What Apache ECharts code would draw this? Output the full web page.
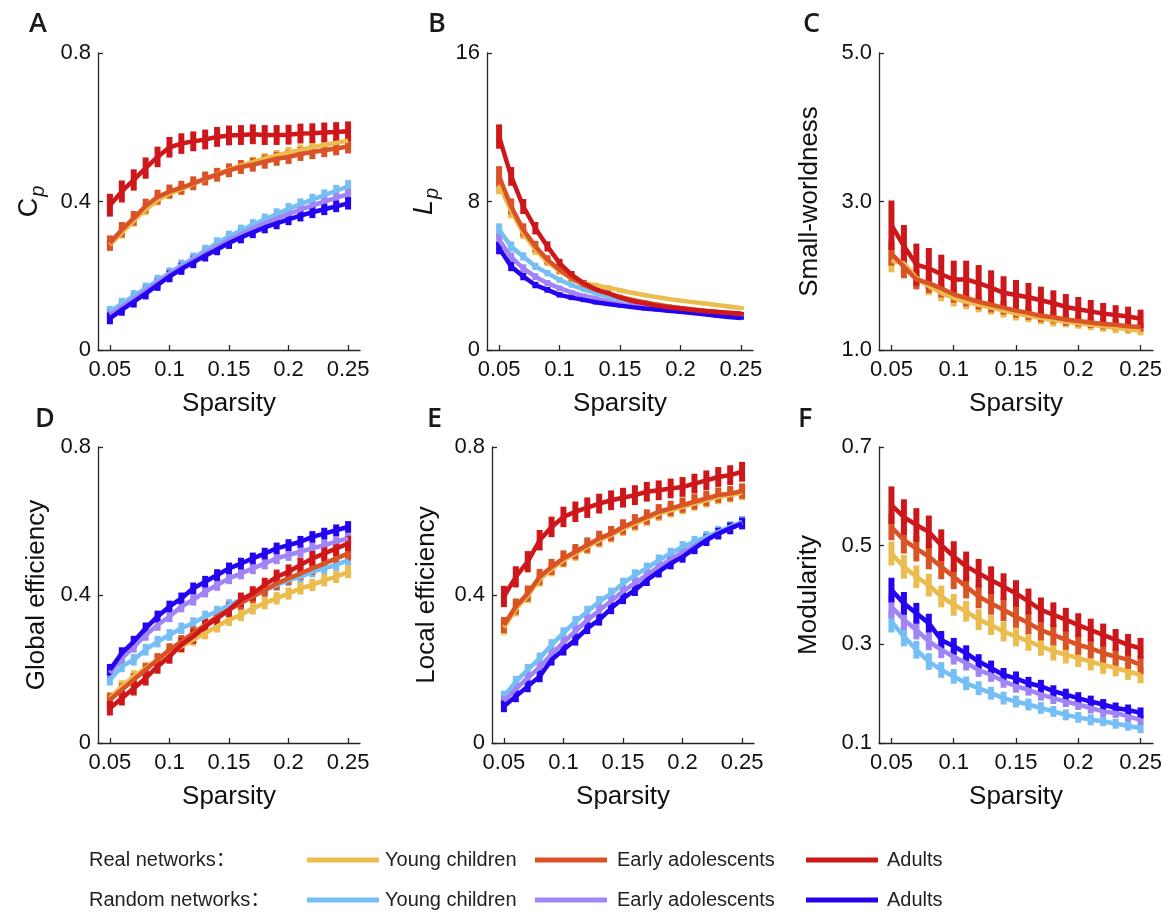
<!DOCTYPE html>
<html>
<head>
<meta charset="utf-8">
<script src="https://cdn.jsdelivr.net/npm/echarts@6/dist/echarts.min.js"></script>
<style>
  html, body { margin: 0; padding: 0; background: #fff; }
  #chart { width: 1169px; height: 913px; }
</style>
</head>
<body>
<div id="chart"></div>
<script>
/* ---------- data ---------- */
const sparsity = [0.05, 0.06, 0.07, 0.08, 0.09, 0.10, 0.11, 0.12, 0.13, 0.14, 0.15, 0.16, 0.17, 0.18, 0.19, 0.20, 0.21, 0.22, 0.23, 0.24, 0.25];
const xTicks = [0.05, 0.1, 0.15, 0.2, 0.25];

// A: Cp
const cpYoung = [0.283, 0.316, 0.348, 0.378, 0.404, 0.421, 0.433, 0.447, 0.461, 0.473, 0.486, 0.497, 0.506, 0.516, 0.524, 0.532, 0.539, 0.546, 0.552, 0.558, 0.564];
const cpYoungSd = [0.013, 0.013, 0.013, 0.012, 0.012, 0.012, 0.012, 0.012, 0.012, 0.012, 0.012, 0.012, 0.012, 0.012, 0.012, 0.012, 0.012, 0.012, 0.012, 0.012, 0.012];
const cpEarly = [0.288, 0.324, 0.355, 0.388, 0.412, 0.427, 0.437, 0.449, 0.462, 0.472, 0.484, 0.493, 0.499, 0.507, 0.515, 0.520, 0.528, 0.533, 0.538, 0.543, 0.548];
const cpEarlySd = [0.018, 0.018, 0.017, 0.017, 0.017, 0.016, 0.016, 0.016, 0.016, 0.016, 0.016, 0.016, 0.016, 0.016, 0.016, 0.016, 0.016, 0.016, 0.016, 0.016, 0.016];
const cpAdult = [0.390, 0.427, 0.458, 0.490, 0.520, 0.546, 0.556, 0.562, 0.567, 0.574, 0.578, 0.579, 0.581, 0.579, 0.579, 0.580, 0.583, 0.584, 0.586, 0.587, 0.589];
const cpAdultSd = [0.028, 0.027, 0.026, 0.026, 0.025, 0.025, 0.025, 0.024, 0.024, 0.024, 0.024, 0.024, 0.024, 0.024, 0.024, 0.024, 0.024, 0.024, 0.024, 0.024, 0.024];
const cpRandYoung = [0.103, 0.125, 0.146, 0.166, 0.187, 0.207, 0.228, 0.247, 0.268, 0.288, 0.306, 0.322, 0.337, 0.352, 0.366, 0.380, 0.393, 0.405, 0.417, 0.429, 0.441];
const cpRandYoungSd = [0.013, 0.013, 0.013, 0.013, 0.013, 0.013, 0.013, 0.013, 0.013, 0.013, 0.013, 0.013, 0.013, 0.013, 0.013, 0.013, 0.013, 0.013, 0.013, 0.013, 0.014];
const cpRandEarly = [0.094, 0.116, 0.138, 0.159, 0.181, 0.203, 0.223, 0.242, 0.261, 0.279, 0.296, 0.312, 0.327, 0.341, 0.354, 0.366, 0.378, 0.389, 0.400, 0.410, 0.420];
const cpRandEarlySd = [0.012, 0.012, 0.012, 0.012, 0.012, 0.012, 0.012, 0.012, 0.012, 0.012, 0.012, 0.012, 0.012, 0.012, 0.012, 0.012, 0.012, 0.012, 0.012, 0.012, 0.013];
const cpRandAdult = [0.085, 0.108, 0.130, 0.152, 0.175, 0.198, 0.218, 0.236, 0.254, 0.271, 0.288, 0.303, 0.317, 0.330, 0.341, 0.352, 0.362, 0.371, 0.379, 0.387, 0.395];
const cpRandAdultSd = [0.013, 0.013, 0.013, 0.013, 0.013, 0.013, 0.013, 0.013, 0.013, 0.013, 0.013, 0.013, 0.013, 0.013, 0.013, 0.013, 0.013, 0.013, 0.013, 0.013, 0.014];

// B: Lp
const lpYoung = [8.90, 7.50, 6.30, 5.40, 4.75, 4.25, 3.85, 3.62, 3.48, 3.36, 3.22, 3.08, 2.96, 2.85, 2.75, 2.66, 2.58, 2.50, 2.42, 2.34, 2.26];
const lpYoungSd = [0.45, 0.35, 0.27, 0.22, 0.17, 0.14, 0.12, 0.10, 0.09, 0.08, 0.07, 0.06, 0.06, 0.05, 0.05, 0.05, 0.05, 0.05, 0.04, 0.04, 0.04];
const lpEarly = [9.35, 7.73, 6.47, 5.58, 4.86, 4.32, 3.87, 3.50, 3.24, 3.05, 2.86, 2.70, 2.57, 2.45, 2.35, 2.26, 2.19, 2.12, 2.06, 2.01, 1.96];
const lpEarlySd = [0.50, 0.38, 0.30, 0.24, 0.19, 0.15, 0.12, 0.10, 0.09, 0.08, 0.07, 0.06, 0.06, 0.05, 0.05, 0.05, 0.05, 0.05, 0.05, 0.04, 0.04];
const lpAdult = [11.50, 9.35, 7.73, 6.56, 5.58, 4.68, 4.05, 3.60, 3.27, 3.06, 2.82, 2.64, 2.52, 2.39, 2.30, 2.23, 2.16, 2.10, 2.05, 2.00, 1.95];
const lpAdultSd = [0.60, 0.45, 0.35, 0.28, 0.22, 0.18, 0.15, 0.12, 0.10, 0.09, 0.08, 0.07, 0.06, 0.06, 0.05, 0.05, 0.05, 0.05, 0.05, 0.05, 0.05];
const lpRandYoung = [6.47, 5.58, 5.04, 4.50, 4.14, 3.78, 3.50, 3.27, 3.06, 2.88, 2.73, 2.62, 2.52, 2.43, 2.35, 2.25, 2.17, 2.09, 2.02, 1.95, 1.89];
const lpRandYoungSd = [0.30, 0.22, 0.17, 0.14, 0.12, 0.10, 0.09, 0.08, 0.07, 0.06, 0.06, 0.05, 0.05, 0.05, 0.04, 0.04, 0.04, 0.04, 0.04, 0.04, 0.04];
const lpRandEarly = [5.94, 5.00, 4.40, 3.95, 3.60, 3.33, 3.10, 2.92, 2.78, 2.62, 2.48, 2.38, 2.29, 2.21, 2.14, 2.07, 2.01, 1.95, 1.90, 1.85, 1.80];
const lpRandEarlySd = [0.28, 0.20, 0.16, 0.13, 0.11, 0.09, 0.08, 0.07, 0.06, 0.06, 0.05, 0.05, 0.05, 0.04, 0.04, 0.04, 0.04, 0.04, 0.04, 0.04, 0.04];
const lpRandAdult = [5.49, 4.50, 3.96, 3.50, 3.24, 2.97, 2.82, 2.70, 2.57, 2.48, 2.39, 2.31, 2.24, 2.18, 2.12, 2.06, 1.99, 1.92, 1.85, 1.78, 1.72];
const lpRandAdultSd = [0.28, 0.20, 0.15, 0.12, 0.10, 0.09, 0.08, 0.07, 0.06, 0.06, 0.05, 0.05, 0.05, 0.04, 0.04, 0.04, 0.04, 0.04, 0.04, 0.04, 0.04];

// C: small-worldness
const swYoung = [2.20, 2.17, 1.97, 1.86, 1.77, 1.70, 1.65, 1.61, 1.57, 1.53, 1.49, 1.46, 1.43, 1.40, 1.38, 1.36, 1.34, 1.32, 1.30, 1.28, 1.26];
const swYoungSd = [0.14, 0.13, 0.12, 0.11, 0.10, 0.10, 0.09, 0.09, 0.08, 0.08, 0.08, 0.07, 0.07, 0.07, 0.06, 0.06, 0.06, 0.06, 0.06, 0.05, 0.05];
const swEarly = [2.30, 2.12, 1.95, 1.90, 1.83, 1.75, 1.70, 1.65, 1.61, 1.57, 1.53, 1.50, 1.46, 1.44, 1.41, 1.39, 1.37, 1.35, 1.34, 1.32, 1.31];
const swEarlySd = [0.15, 0.14, 0.12, 0.12, 0.11, 0.10, 0.10, 0.09, 0.09, 0.08, 0.08, 0.08, 0.07, 0.07, 0.07, 0.06, 0.06, 0.06, 0.06, 0.06, 0.05];
const swAdult = [2.68, 2.40, 2.15, 2.10, 2.02, 1.95, 1.95, 1.90, 1.84, 1.77, 1.74, 1.71, 1.67, 1.63, 1.58, 1.55, 1.52, 1.49, 1.47, 1.45, 1.42];
const swAdultSd = [0.32, 0.27, 0.27, 0.26, 0.25, 0.24, 0.24, 0.23, 0.22, 0.21, 0.19, 0.18, 0.17, 0.16, 0.16, 0.15, 0.14, 0.13, 0.12, 0.12, 0.11];

// D: global efficiency
const geYoung = [0.121, 0.153, 0.180, 0.202, 0.225, 0.243, 0.261, 0.279, 0.297, 0.315, 0.333, 0.346, 0.364, 0.378, 0.391, 0.404, 0.418, 0.427, 0.440, 0.449, 0.463];
const geYoungSd = [0.014, 0.014, 0.014, 0.014, 0.014, 0.014, 0.014, 0.014, 0.014, 0.014, 0.014, 0.014, 0.014, 0.014, 0.014, 0.014, 0.014, 0.014, 0.014, 0.014, 0.015];
const geEarly = [0.117, 0.144, 0.171, 0.198, 0.225, 0.252, 0.274, 0.297, 0.319, 0.342, 0.360, 0.378, 0.396, 0.413, 0.431, 0.445, 0.458, 0.472, 0.485, 0.499, 0.512];
const geEarlySd = [0.015, 0.015, 0.015, 0.015, 0.015, 0.015, 0.015, 0.015, 0.015, 0.015, 0.015, 0.015, 0.015, 0.015, 0.015, 0.015, 0.015, 0.015, 0.015, 0.015, 0.016];
const geAdult = [0.094, 0.121, 0.148, 0.175, 0.207, 0.234, 0.265, 0.288, 0.315, 0.337, 0.360, 0.387, 0.404, 0.427, 0.449, 0.463, 0.481, 0.499, 0.512, 0.526, 0.539];
const geAdultSd = [0.017, 0.017, 0.017, 0.017, 0.017, 0.017, 0.017, 0.017, 0.017, 0.017, 0.017, 0.017, 0.017, 0.017, 0.017, 0.017, 0.017, 0.017, 0.017, 0.018, 0.018];
const geRandYoung = [0.171, 0.207, 0.225, 0.252, 0.274, 0.292, 0.310, 0.324, 0.342, 0.355, 0.373, 0.387, 0.400, 0.413, 0.427, 0.440, 0.449, 0.463, 0.472, 0.481, 0.494];
const geRandYoungSd = [0.013, 0.013, 0.013, 0.013, 0.013, 0.013, 0.013, 0.013, 0.013, 0.013, 0.013, 0.013, 0.013, 0.013, 0.013, 0.013, 0.013, 0.013, 0.013, 0.013, 0.013];
const geRandEarly = [0.189, 0.229, 0.260, 0.292, 0.319, 0.342, 0.369, 0.387, 0.409, 0.427, 0.445, 0.458, 0.472, 0.485, 0.499, 0.508, 0.517, 0.526, 0.535, 0.544, 0.553];
const geRandEarlySd = [0.013, 0.013, 0.013, 0.013, 0.013, 0.013, 0.013, 0.013, 0.013, 0.013, 0.013, 0.013, 0.013, 0.013, 0.013, 0.013, 0.013, 0.013, 0.013, 0.013, 0.013];
const geRandAdult = [0.198, 0.243, 0.274, 0.310, 0.342, 0.369, 0.391, 0.418, 0.436, 0.454, 0.472, 0.485, 0.499, 0.512, 0.526, 0.535, 0.544, 0.557, 0.566, 0.575, 0.584];
const geRandAdultSd = [0.013, 0.013, 0.013, 0.013, 0.013, 0.013, 0.013, 0.013, 0.013, 0.013, 0.013, 0.013, 0.013, 0.013, 0.013, 0.013, 0.013, 0.013, 0.013, 0.013, 0.013];

// E: local efficiency
const leYoung = [0.312, 0.362, 0.398, 0.442, 0.470, 0.494, 0.512, 0.530, 0.548, 0.562, 0.579, 0.593, 0.606, 0.620, 0.629, 0.638, 0.647, 0.656, 0.665, 0.670, 0.676];
const leYoungSd = [0.017, 0.017, 0.017, 0.017, 0.017, 0.017, 0.017, 0.017, 0.017, 0.017, 0.017, 0.017, 0.017, 0.017, 0.017, 0.017, 0.017, 0.017, 0.017, 0.017, 0.017];
const leEarly = [0.319, 0.369, 0.404, 0.449, 0.476, 0.499, 0.517, 0.535, 0.553, 0.566, 0.584, 0.598, 0.611, 0.625, 0.634, 0.643, 0.652, 0.661, 0.670, 0.674, 0.681];
const leEarlySd = [0.019, 0.019, 0.019, 0.019, 0.019, 0.019, 0.018, 0.018, 0.018, 0.018, 0.018, 0.018, 0.018, 0.018, 0.018, 0.018, 0.018, 0.018, 0.018, 0.018, 0.018];
const leAdult = [0.396, 0.449, 0.490, 0.548, 0.584, 0.611, 0.625, 0.636, 0.647, 0.656, 0.663, 0.670, 0.679, 0.683, 0.688, 0.692, 0.701, 0.710, 0.719, 0.724, 0.733];
const leAdultSd = [0.026, 0.026, 0.026, 0.025, 0.025, 0.025, 0.025, 0.025, 0.024, 0.024, 0.024, 0.024, 0.024, 0.024, 0.024, 0.024, 0.024, 0.024, 0.024, 0.024, 0.024];
const leRandYoung = [0.126, 0.166, 0.198, 0.229, 0.265, 0.297, 0.328, 0.355, 0.382, 0.404, 0.431, 0.454, 0.472, 0.494, 0.512, 0.530, 0.544, 0.557, 0.571, 0.584, 0.598];
const leRandYoungSd = [0.013, 0.013, 0.013, 0.013, 0.013, 0.013, 0.013, 0.013, 0.013, 0.013, 0.013, 0.013, 0.013, 0.013, 0.013, 0.013, 0.013, 0.013, 0.013, 0.013, 0.013];
const leRandEarly = [0.113, 0.146, 0.176, 0.205, 0.240, 0.272, 0.302, 0.332, 0.358, 0.384, 0.410, 0.432, 0.454, 0.476, 0.496, 0.515, 0.532, 0.550, 0.566, 0.580, 0.595];
const leRandEarlySd = [0.013, 0.013, 0.013, 0.013, 0.013, 0.013, 0.013, 0.013, 0.013, 0.013, 0.013, 0.013, 0.013, 0.013, 0.013, 0.013, 0.013, 0.013, 0.013, 0.013, 0.013];
const leRandAdult = [0.099, 0.126, 0.153, 0.180, 0.225, 0.252, 0.279, 0.310, 0.333, 0.364, 0.391, 0.413, 0.440, 0.463, 0.485, 0.503, 0.526, 0.548, 0.566, 0.580, 0.593];
const leRandAdultSd = [0.013, 0.013, 0.013, 0.013, 0.013, 0.013, 0.013, 0.013, 0.013, 0.013, 0.013, 0.013, 0.013, 0.013, 0.013, 0.013, 0.013, 0.013, 0.013, 0.013, 0.013];

// F: modularity
const moYoung = [0.484, 0.457, 0.437, 0.420, 0.397, 0.380, 0.367, 0.350, 0.339, 0.326, 0.316, 0.306, 0.296, 0.286, 0.279, 0.272, 0.265, 0.258, 0.252, 0.245, 0.238];
const moYoungSd = [0.022, 0.022, 0.021, 0.021, 0.020, 0.020, 0.019, 0.019, 0.018, 0.018, 0.018, 0.017, 0.017, 0.017, 0.016, 0.016, 0.016, 0.016, 0.015, 0.015, 0.015];
const moEarly = [0.538, 0.511, 0.494, 0.478, 0.457, 0.437, 0.417, 0.397, 0.383, 0.370, 0.356, 0.343, 0.329, 0.319, 0.309, 0.299, 0.292, 0.282, 0.275, 0.269, 0.258];
const moEarlySd = [0.025, 0.025, 0.024, 0.024, 0.023, 0.023, 0.022, 0.022, 0.021, 0.021, 0.020, 0.020, 0.019, 0.019, 0.018, 0.018, 0.018, 0.017, 0.017, 0.017, 0.016];
const moAdult = [0.582, 0.558, 0.542, 0.528, 0.501, 0.478, 0.458, 0.444, 0.430, 0.417, 0.403, 0.387, 0.370, 0.360, 0.350, 0.339, 0.329, 0.319, 0.309, 0.299, 0.292];
const moAdultSd = [0.036, 0.034, 0.032, 0.031, 0.030, 0.029, 0.028, 0.027, 0.026, 0.025, 0.025, 0.024, 0.023, 0.023, 0.022, 0.022, 0.021, 0.021, 0.020, 0.020, 0.019];
const moRandYoung = [0.346, 0.316, 0.289, 0.265, 0.248, 0.235, 0.221, 0.211, 0.201, 0.191, 0.184, 0.178, 0.171, 0.164, 0.157, 0.152, 0.147, 0.144, 0.139, 0.135, 0.130];
const moRandYoungSd = [0.020, 0.018, 0.016, 0.015, 0.014, 0.013, 0.012, 0.012, 0.011, 0.011, 0.010, 0.010, 0.010, 0.009, 0.009, 0.009, 0.009, 0.008, 0.008, 0.008, 0.008];
const moRandEarly = [0.376, 0.350, 0.329, 0.306, 0.289, 0.275, 0.262, 0.248, 0.238, 0.225, 0.215, 0.208, 0.198, 0.191, 0.184, 0.178, 0.171, 0.164, 0.161, 0.154, 0.147];
const moRandEarlySd = [0.021, 0.019, 0.017, 0.016, 0.015, 0.014, 0.013, 0.012, 0.012, 0.011, 0.011, 0.010, 0.010, 0.010, 0.009, 0.009, 0.009, 0.009, 0.008, 0.008, 0.008];
const moRandAdult = [0.410, 0.383, 0.363, 0.343, 0.309, 0.296, 0.282, 0.265, 0.252, 0.238, 0.231, 0.221, 0.215, 0.205, 0.198, 0.191, 0.184, 0.178, 0.171, 0.167, 0.161];
const moRandAdultSd = [0.023, 0.021, 0.019, 0.017, 0.016, 0.015, 0.014, 0.013, 0.013, 0.012, 0.012, 0.011, 0.011, 0.010, 0.010, 0.010, 0.010, 0.009, 0.009, 0.009, 0.009];

/* ---------- styles ---------- */
const FONT = 'Liberation Sans, Arial, Noto Sans CJK SC, sans-serif';
const AXIS = '#262626';
const cYoung = '#EBBC4E';
const cEarly = '#DA5326';
const cAdult = '#CD171A';
const cRandYoung = '#75BFF5';
const cRandEarly = '#A184F5';
const cRandAdult = '#2404F0';

const grids = [
  { left: 98, top: 53, width: 262, height: 297 },
  { left: 487, top: 53, width: 266, height: 297 },
  { left: 879, top: 53, width: 274, height: 297 },
  { left: 98, top: 447, width: 262, height: 296 },
  { left: 492, top: 447, width: 262, height: 296 },
  { left: 879, top: 447, width: 274, height: 296 },
];

function xAxis(i) {
  return {
    type: 'value', gridIndex: i, min: 0.04, max: 0.26,
    name: 'Sparsity', nameLocation: 'middle', nameGap: 41,
    nameTextStyle: { fontFamily: FONT, fontSize: 26, color: '#111', verticalAlign: 'top' },
    axisLine: { lineStyle: { color: AXIS, width: 1.3 } },
    axisTick: { inside: true, length: 5, customValues: xTicks, lineStyle: { color: AXIS, width: 1.3 } },
    axisLabel: { customValues: xTicks, margin: 9, fontFamily: FONT, fontSize: 22, color: '#111',
      formatter: (v) => String(+v.toFixed(2)) },
    splitLine: { show: false },
  };
}

function yAxis(i, min, max, ticks, digits, name, gap, rich) {
  return {
    type: 'value', gridIndex: i, min, max,
    name, nameLocation: 'middle', nameGap: gap,
    nameTextStyle: { fontFamily: FONT, fontSize: 26, color: '#111', rich },
    axisLine: { show: true, lineStyle: { color: AXIS, width: 1.3 } },
    axisTick: { inside: true, length: 5, customValues: ticks, lineStyle: { color: AXIS, width: 1.3 } },
    axisLabel: { customValues: ticks, margin: 7, fontFamily: FONT, fontSize: 22, color: '#111',
      formatter: (v) => (v === 0 ? '0' : v.toFixed(digits)) },
    splitLine: { show: false },
  };
}

const subRich = {
  c: { fontFamily: FONT, fontSize: 27, color: '#111', fontStyle: 'normal' },
  l: { fontFamily: FONT, fontSize: 27, color: '#111', fontStyle: 'italic' },
  p: { fontFamily: FONT, fontSize: 20, color: '#111', fontStyle: 'italic', padding: [16, 0, 0, 1] },
};

const series = [];
function addGroup(i, vals, sd, color) {
  series.push({
    type: 'line', xAxisIndex: i, yAxisIndex: i, showSymbol: false, silent: true,
    data: sparsity.map((x, k) => [x, vals[k]]),
    lineStyle: { color, width: 4.5 }, itemStyle: { color },
  });
  series.push({
    type: 'custom', xAxisIndex: i, yAxisIndex: i, silent: true,
    data: sparsity.map((x, k) => [x, vals[k] - sd[k], vals[k] + sd[k]]),
    renderItem: (params, api) => {
      const lo = api.coord([api.value(0), api.value(1)]);
      const hi = api.coord([api.value(0), api.value(2)]);
      return {
        type: 'rect',
        shape: { x: lo[0] - 3, y: hi[1] - 1, width: 6, height: lo[1] - hi[1] + 2 },
        style: { fill: color },
      };
    },
  });
}

function addPanel(i, groups) {
  groups.forEach((g) => addGroup(i, g[0], g[1], g[2]));
}

addPanel(0, [
  [cpRandYoung, cpRandYoungSd, cRandYoung], [cpRandEarly, cpRandEarlySd, cRandEarly], [cpRandAdult, cpRandAdultSd, cRandAdult],
  [cpYoung, cpYoungSd, cYoung], [cpEarly, cpEarlySd, cEarly], [cpAdult, cpAdultSd, cAdult],
]);
addPanel(1, [
  [lpRandYoung, lpRandYoungSd, cRandYoung], [lpRandEarly, lpRandEarlySd, cRandEarly], [lpRandAdult, lpRandAdultSd, cRandAdult],
  [lpYoung, lpYoungSd, cYoung], [lpEarly, lpEarlySd, cEarly], [lpAdult, lpAdultSd, cAdult],
]);
addPanel(2, [
  [swYoung, swYoungSd, cYoung], [swEarly, swEarlySd, cEarly], [swAdult, swAdultSd, cAdult],
]);
addPanel(3, [
  [geRandYoung, geRandYoungSd, cRandYoung], [geRandEarly, geRandEarlySd, cRandEarly], [geRandAdult, geRandAdultSd, cRandAdult],
  [geYoung, geYoungSd, cYoung], [geEarly, geEarlySd, cEarly], [geAdult, geAdultSd, cAdult],
]);
addPanel(4, [
  [leRandYoung, leRandYoungSd, cRandYoung], [leRandEarly, leRandEarlySd, cRandEarly], [leRandAdult, leRandAdultSd, cRandAdult],
  [leYoung, leYoungSd, cYoung], [leEarly, leEarlySd, cEarly], [leAdult, leAdultSd, cAdult],
]);
addPanel(5, [
  [moRandYoung, moRandYoungSd, cRandYoung], [moRandEarly, moRandEarlySd, cRandEarly], [moRandAdult, moRandAdultSd, cRandAdult],
  [moYoung, moYoungSd, cYoung], [moEarly, moEarlySd, cEarly], [moAdult, moAdultSd, cAdult],
]);

/* ---------- panel letters + legend ---------- */
const letters = [['A', 29, 11], ['B', 428, 11], ['C', 803, 11], ['D', 35, 406], ['E', 427, 406], ['F', 798, 406]];
const graphic = letters.map(([t, x, y]) => ({
  type: 'text', left: x, top: y,
  style: { text: t, font: '600 27px "Open Sans", sans-serif', fill: '#1a1a1a' },
}));

const legendRows = [
  { label: 'Real networks：', y: 860, colors: [cYoung, cEarly, cAdult] },
  { label: 'Random networks：', y: 900, colors: [cRandYoung, cRandEarly, cRandAdult] },
];
const legendNames = ['Young children', 'Early adolescents', 'Adults'];
const legendLineX = [307, 535, 806];
const legendTextX = [385, 617, 887];
legendRows.forEach((row) => {
  graphic.push({
    type: 'text', x: 89, y: row.y,
    style: { text: row.label, font: '20px ' + FONT, fill: '#222', verticalAlign: 'middle' },
  });
  row.colors.forEach((c, k) => {
    graphic.push({ type: 'rect', shape: { x: legendLineX[k], y: row.y - 2.5, width: 72, height: 5 }, style: { fill: c } });
    graphic.push({
      type: 'text', x: legendTextX[k], y: row.y,
      style: { text: legendNames[k], font: '20px ' + FONT, fill: '#222', verticalAlign: 'middle' },
    });
  });
});

/* ---------- chart ---------- */
const chart = echarts.init(document.getElementById('chart'));
chart.setOption({
  animation: false,
  backgroundColor: '#fff',
  grid: grids,
  xAxis: [0, 1, 2, 3, 4, 5].map(xAxis),
  yAxis: [
    yAxis(0, 0, 0.8, [0, 0.4, 0.8], 1, '{c|C}{p|p}', 50, subRich),
    yAxis(1, 0, 16, [0, 8, 16], 0, '{l|L}{p|p}', 45, subRich),
    yAxis(2, 1, 5, [1, 3, 5], 1, 'Small-worldness', 56),
    yAxis(3, 0, 0.8, [0, 0.4, 0.8], 1, 'Global efficiency', 48),
    yAxis(4, 0, 0.8, [0, 0.4, 0.8], 1, 'Local efficiency', 52),
    yAxis(5, 0.1, 0.7, [0.1, 0.3, 0.5, 0.7], 1, 'Modularity', 57),
  ],
  series,
  graphic,
});
</script>
</body>
</html>
